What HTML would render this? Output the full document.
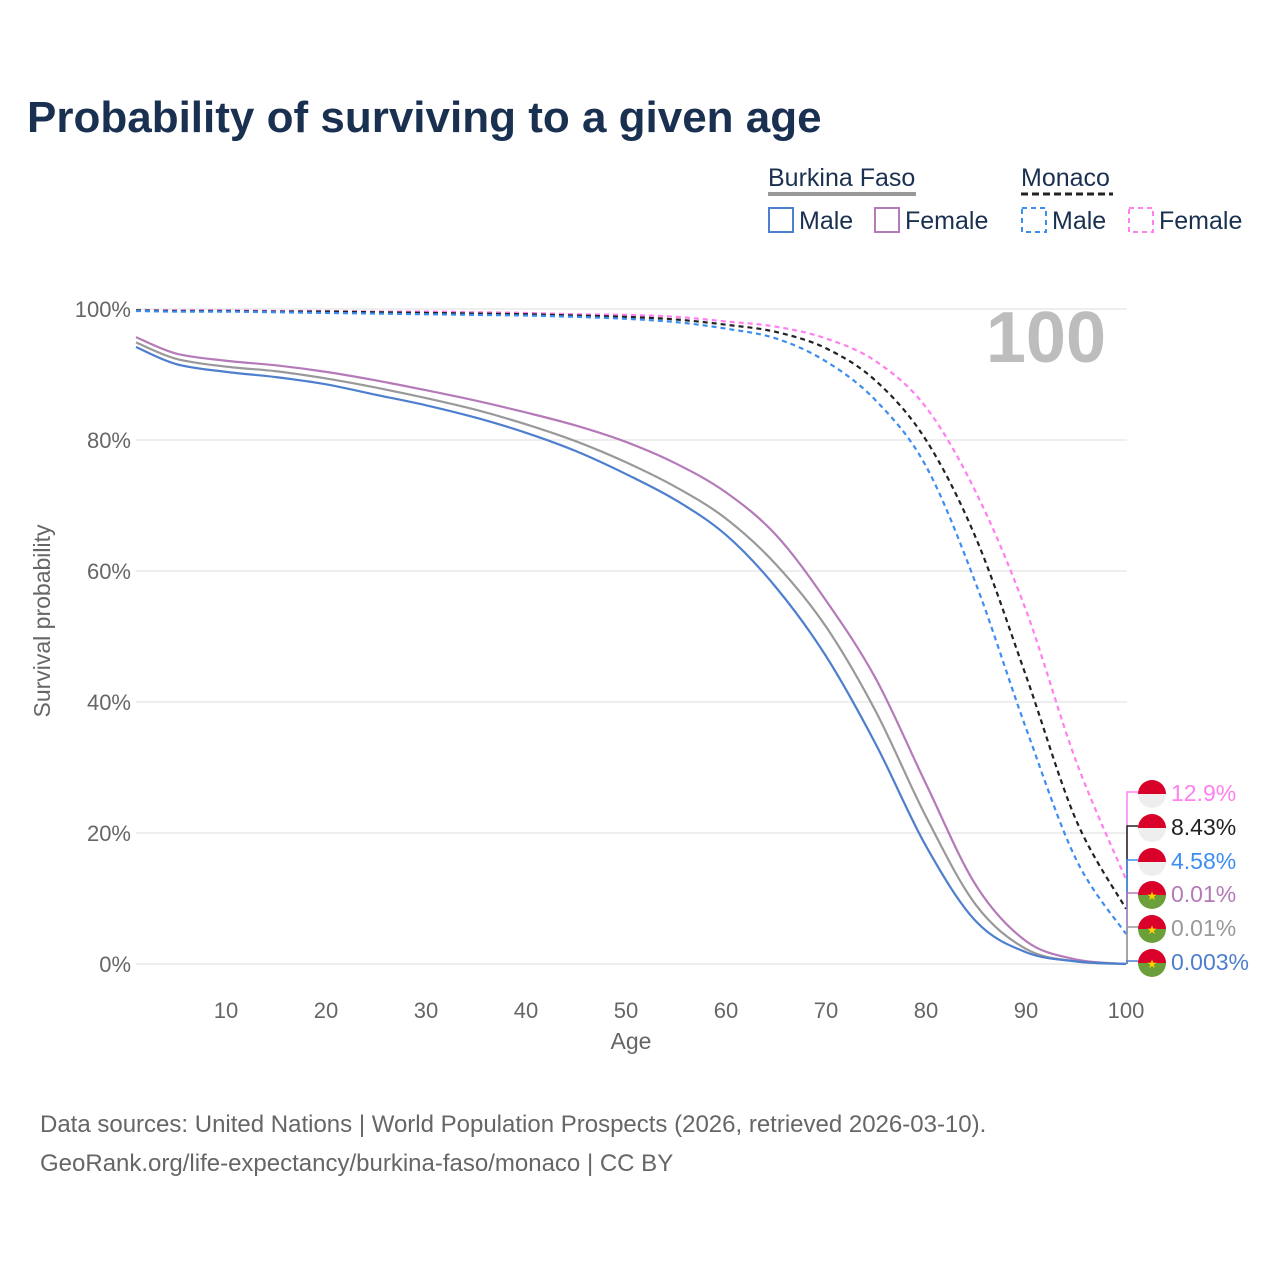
<!DOCTYPE html>
<html><head><meta charset="utf-8"><style>
body{margin:0;background:#fff;font-family:"Liberation Sans",sans-serif;}
svg text{font-family:"Liberation Sans",sans-serif;}
</style></head><body>
<svg width="1280" height="1280" xmlns="http://www.w3.org/2000/svg">
<text x="27" y="132" font-size="44" font-weight="bold" fill="#1a3050">Probability of surviving to a given age</text>
<g>
<text x="768" y="186" font-size="25" fill="#1a3050">Burkina Faso</text>
<line x1="768" x2="916" y1="194" y2="194" stroke="#999" stroke-width="4"/>
<text x="1021" y="186" font-size="25" fill="#1a3050">Monaco</text>
<line x1="1021" x2="1113" y1="194" y2="194" stroke="#222" stroke-width="3" stroke-dasharray="7,4"/>
<rect x="769" y="208" width="24" height="24" fill="none" stroke="#4e7fce" stroke-width="2"/>
<text x="799" y="229" font-size="25" fill="#1a3050">Male</text>
<rect x="875" y="208" width="24" height="24" fill="none" stroke="#b57ab8" stroke-width="2"/>
<text x="905" y="229" font-size="25" fill="#1a3050">Female</text>
<rect x="1022" y="208" width="24" height="24" fill="none" stroke="#3d8ef0" stroke-width="2" stroke-dasharray="5,4"/>
<text x="1052" y="229" font-size="25" fill="#1a3050">Male</text>
<rect x="1129" y="208" width="24" height="24" fill="none" stroke="#ff80ee" stroke-width="2" stroke-dasharray="5,4"/>
<text x="1159" y="229" font-size="25" fill="#1a3050">Female</text>
</g>
<g id="grid"></g>
<text x="1106" y="362" font-size="72" font-weight="bold" fill="#bdbdbd" text-anchor="end">100</text>
<g id="series"></g>
<g id="endlabels"></g>
<text x="631" y="1049" font-size="23" fill="#666" text-anchor="middle">Age</text>
<text transform="translate(50,621) rotate(-90)" font-size="23" fill="#666" text-anchor="middle">Survival probability</text>
<text x="40" y="1132" font-size="24" fill="#666">Data sources: United Nations | World Population Prospects (2026, retrieved 2026-03-10).</text>
<text x="40" y="1171" font-size="24" fill="#666">GeoRank.org/life-expectancy/burkina-faso/monaco | CC BY</text>
</svg>
<script>
const ages=[1,5,10,15,20,25,30,35,40,45,50,55,60,65,70,75,80,85,90,95,100];
const bfMale=[94.2,91.6,90.4,89.6,88.5,86.9,85.3,83.4,81.1,78.3,74.8,70.8,65.5,57.5,47,33.5,18,6.5,1.8,0.4,0.003];
const bfTotal=[94.9,92.4,91.2,90.5,89.4,88,86.4,84.6,82.4,79.8,76.6,72.8,68,61,51.5,38.5,22.5,9,2.3,0.4,0.01];
const bfFemale=[95.7,93.2,92.1,91.4,90.4,89.1,87.6,86,84.2,82.2,79.7,76.4,72,65.5,55.5,43.5,27.5,12,3.5,0.7,0.01];
const mcMale=[99.7,99.6,99.6,99.5,99.4,99.3,99.2,99.1,99.0,98.8,98.5,98,97,95.5,92,86,76,58,36,16,4.58];
const mcTotal=[99.8,99.7,99.7,99.6,99.6,99.5,99.4,99.3,99.2,99.0,98.8,98.4,97.6,96.5,94,89,80,65,44,22,8.43];
const mcFemale=[99.8,99.8,99.8,99.7,99.7,99.6,99.6,99.5,99.4,99.2,99.1,98.8,98.1,97.3,95.5,92,85,72,54,31,12.9];
const xTicks=[10,20,30,40,50,60,70,80,90,100];
const yTicks=[0,20,40,60,80,100];
const endLabels=["12.9%","8.43%","4.58%","0.01%","0.01%","0.003%"];
const NS="http://www.w3.org/2000/svg";
const xs=a=>126+10*a, ys=p=>964-6.55*p;
function mk(t,attrs,parent){const e=document.createElementNS(NS,t);for(const k in attrs)e.setAttribute(k,attrs[k]);parent.appendChild(e);return e;}
const grid=document.getElementById('grid');
yTicks.forEach(v=>{
  const l=mk('line',{x1:136,x2:1127,y1:ys(v),y2:ys(v),stroke:'#e8e8e8','stroke-width':1.5},grid);
  
  
  const t=mk('text',{x:131,y:ys(v)+8,'font-size':22,fill:'#666','text-anchor':'end'},grid);
  t.textContent=v+'%';
  
  
});
xTicks.forEach(v=>{
  const t=mk('text',{x:xs(v),y:1018,'font-size':22,fill:'#666','text-anchor':'middle'},grid);
  t.textContent=v;
  
  
});
function path(vals){
  const p=vals.map((v,i)=>[xs(ages[i]),ys(v)]);
  let d='M'+p[0][0]+','+p[0][1];
  for(let i=0;i<p.length-1;i++){
    const p0=p[i-1]||p[i],p1=p[i],p2=p[i+1],p3=p[i+2]||p2;
    d+=' C'+(p1[0]+(p2[0]-p0[0])/6)+','+(p1[1]+(p2[1]-p0[1])/6)+' '+(p2[0]-(p3[0]-p1[0])/6)+','+(p2[1]-(p3[1]-p1[1])/6)+' '+p2[0]+','+p2[1];
  }
  return d;
}
const ser=document.getElementById('series');
const defs=[[mcFemale,'#ff80ee','5,4','line-monaco-female'],[mcTotal,'#222','5,4','line-monaco-total'],[mcMale,'#3d8ef0','5,4','line-monaco-male'],
[bfFemale,'#b57ab8','','line-burkina-female'],[bfTotal,'#999','','line-burkina-total'],[bfMale,'#4e7fce','','line-burkina-male']];
const labY=[792,826,860,893,927,961];
const eg=document.getElementById('endlabels');
defs.forEach((d,i)=>{
  const a={d:path(d[0]),fill:'none',stroke:d[1],'stroke-width':2.2};
  if(d[2])a['stroke-dasharray']=d[2];
  const e=mk('path',a,ser);
  
  
  const yEnd=ys(d[0][d[0].length-1]), yl=labY[i];
  mk('polyline',{points:`1127,${yEnd} 1127,${yl} 1138,${yl}`,fill:'none',stroke:d[1],'stroke-width':1.5},eg);
  const g=mk('g',{},eg);
  
  
  const cx=1152,cy=yl+2,r=14;
  if(i<3){
    mk('path',{d:`M${cx-r},${cy} A${r},${r} 0 0 1 ${cx+r},${cy} Z`,fill:'#d9002a'},g);
    mk('path',{d:`M${cx-r},${cy} A${r},${r} 0 0 0 ${cx+r},${cy} Z`,fill:'#eeeeee'},g);
  }else{
    mk('path',{d:`M${cx-r},${cy} A${r},${r} 0 0 1 ${cx+r},${cy} Z`,fill:'#d9002a'},g);
    mk('path',{d:`M${cx-r},${cy} A${r},${r} 0 0 0 ${cx+r},${cy} Z`,fill:'#6a9f3a'},g);
    const s=mk('text',{x:cx,y:cy+5,'font-size':12,fill:'#ffd400','text-anchor':'middle'},g);s.textContent='★';
  }
  const t=mk('text',{x:1171,y:yl+9,'font-size':23,fill:d[1]},eg);
  t.textContent=endLabels[i];
  
  
});
</script>
</body></html>
